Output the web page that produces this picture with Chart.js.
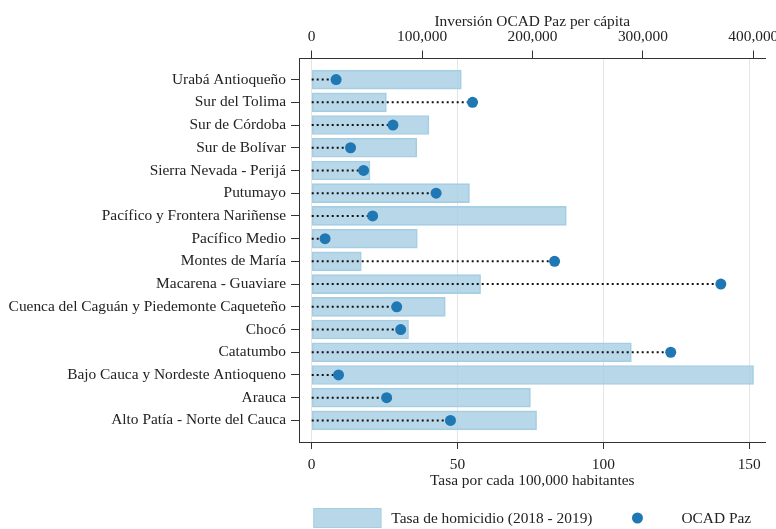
<!DOCTYPE html>
<html>
<head>
<meta charset="utf-8">
<script src="https://cdn.jsdelivr.net/npm/chart.js@4.4.1/dist/chart.umd.min.js"></script>
<style>
  html, body { margin: 0; padding: 0; background: #fff; overflow: hidden; }
  #wrap { width: 800px; height: 529px; }
</style>
</head>
<body>
<div id="wrap"><canvas id="chart" width="800" height="529"></canvas></div>
<script>
// regiones PDET, de arriba hacia abajo
const regions = [
  'Urabá Antioqueño',
  'Sur del Tolima',
  'Sur de Córdoba',
  'Sur de Bolívar',
  'Sierra Nevada - Perijá',
  'Putumayo',
  'Pacífico y Frontera Nariñense',
  'Pacífico Medio',
  'Montes de María',
  'Macarena - Guaviare',
  'Cuenca del Caguán y Piedemonte Caqueteño',
  'Chocó',
  'Catatumbo',
  'Bajo Cauca y Nordeste Antioqueno',
  'Arauca',
  'Alto Patía - Norte del Cauca',
];

// tasa de homicidio por cada 100,000 habitantes (2018 - 2019)
const homicideRate = [51.3, 25.6, 40.2, 36.0, 20.0, 54.1, 87.3, 36.2, 17.0, 57.9, 45.8, 33.2, 109.6, 151.5, 75.0, 77.1];

// inversión OCAD Paz per cápita
const ocadPerCapita = [22100, 145700, 73600, 35200, 47000, 112700, 55200, 12100, 220000, 370600, 77000, 80600, 325200, 24300, 67900, 125700];

const rateTicks = [0, 50, 100, 150];
const ocadTicks = [0, 100000, 200000, 300000, 400000];

const FONT_FAMILY = "'Liberation Serif', 'Times New Roman', serif";
const FONT_SIZE = 15.4;
const TEXT_COLOR = '#222';
const AXIS_COLOR = '#333';

Chart.defaults.font.family = FONT_FAMILY;
Chart.defaults.font.size = FONT_SIZE;
Chart.defaults.color = TEXT_COLOR;

// líneas punteadas desde 0 hasta cada punto (null corta el trazo)
const stemData = [];
ocadPerCapita.forEach((v, i) => {
  stemData.push({ x: 0, y: i }, { x: v, y: i }, { x: null, y: i });
});

// leyenda abajo, centrada sobre el panel
const bottomLegend = {
  id: 'bottomLegend',
  afterDraw(chart) {
    const { ctx, chartArea } = chart;
    const bars = chart.data.datasets[0];
    const dots = chart.data.datasets[2];
    ctx.save();
    ctx.font = `${FONT_SIZE}px ${FONT_FAMILY}`;
    const keyW = 68;
    const keyH = 20;
    const gap = 10;
    const itemGap = 11;
    const w1 = ctx.measureText(bars.label).width;
    const w2 = ctx.measureText(dots.label).width;
    const total = keyW + gap + w1 + itemGap + keyW + gap + w2;
    let x = (chartArea.left + chartArea.right) / 2 - total / 2;
    const y = chart.height - 11;

    ctx.fillStyle = bars.backgroundColor;
    ctx.fillRect(x, y - keyH / 2, keyW, keyH);
    ctx.strokeStyle = bars.borderColor;
    ctx.lineWidth = 1;
    ctx.strokeRect(x + 0.5, y - keyH / 2 + 0.5, keyW - 1, keyH - 1);
    x += keyW + gap;
    ctx.fillStyle = TEXT_COLOR;
    ctx.textBaseline = 'middle';
    ctx.fillText(bars.label, x, y + 1);
    x += w1 + itemGap;

    ctx.beginPath();
    ctx.arc(x + keyW / 2, y, dots.pointRadius, 0, Math.PI * 2);
    ctx.fillStyle = dots.backgroundColor;
    ctx.fill();
    x += keyW + gap;
    ctx.fillStyle = TEXT_COLOR;
    ctx.fillText(dots.label, x, y + 1);
    ctx.restore();
  },
};

const ctx = document.getElementById('chart').getContext('2d');

new Chart(ctx, {
  type: 'bar',
  data: {
    datasets: [
      {
        type: 'bar',
        label: 'Tasa de homicidio (2018 - 2019)',
        indexAxis: 'y',
        xAxisID: 'x',
        yAxisID: 'y',
        data: homicideRate.map((v, i) => ({ x: v, y: i })),
        backgroundColor: 'rgba(166, 206, 227, 0.8)',
        borderColor: '#a6cee3',
        borderWidth: 1,
        borderSkipped: false,
        grouped: false,
        barThickness: 19,
        order: 3,
      },
      {
        type: 'line',
        label: 'stems',
        xAxisID: 'x2',
        yAxisID: 'y',
        data: stemData,
        borderColor: '#111',
        borderWidth: 2,
        borderDash: [2, 3],
        pointRadius: 0,
        fill: false,
        spanGaps: false,
        order: 2,
      },
      {
        type: 'scatter',
        label: 'OCAD Paz',
        xAxisID: 'x2',
        yAxisID: 'y',
        data: ocadPerCapita.map((v, i) => ({ x: v, y: i })),
        backgroundColor: '#1f78b4',
        borderWidth: 0,
        pointRadius: 5.5,
        order: 1,
      },
    ],
  },
  options: {
    responsive: false,
    animation: false,
    layout: { padding: { left: 0, top: 0, right: 34.5, bottom: 0 } },
    plugins: {
      legend: { display: false },
      tooltip: { enabled: false },
    },
    scales: {
      x: {
        type: 'linear',
        axis: 'x',
        position: 'bottom',
        offset: false,
        beginAtZero: false,
        min: -4.36,
        max: 155.6,
        afterBuildTicks: s => { s.ticks = rateTicks.map(v => ({ value: v })); },
        afterFit: s => { s.height = 87; },
        grid: { offset: false, color: '#e5e5e5', tickColor: AXIS_COLOR, tickLength: 7 },
        border: { color: AXIS_COLOR, width: 1 },
        ticks: { padding: 6.5, autoSkip: false, maxRotation: 0, callback: v => v },
        title: {
          display: true,
          text: 'Tasa por cada 100,000 habitantes',
          padding: { top: 0, bottom: 39 },
        },
      },
      x2: {
        type: 'linear',
        axis: 'x',
        position: 'top',
        offset: false,
        beginAtZero: false,
        min: -11500,
        max: 411050,
        afterBuildTicks: s => { s.ticks = ocadTicks.map(v => ({ value: v })); },
        afterFit: s => { s.height = 58; },
        grid: { offset: false, drawOnChartArea: false, tickColor: AXIS_COLOR, tickLength: 7.5 },
        border: { color: AXIS_COLOR, width: 1 },
        ticks: { padding: 4.5, autoSkip: false, maxRotation: 0, callback: v => v.toLocaleString('en-US') },
        title: {
          display: true,
          text: 'Inversión OCAD Paz per cápita',
          padding: { top: 12.5, bottom: 0 },
        },
      },
      y: {
        type: 'linear',
        axis: 'y',
        position: 'left',
        offset: false,
        beginAtZero: false,
        reverse: true,
        min: -0.95,
        max: 15.95,
        afterBuildTicks: s => { s.ticks = regions.map((_, i) => ({ value: i })); },
        afterFit: s => { s.width = 299; },
        grid: { offset: false, drawOnChartArea: false, tickColor: AXIS_COLOR, tickLength: 8 },
        border: { color: AXIS_COLOR, width: 1 },
        ticks: { padding: 5, autoSkip: false, callback: v => regions[v] },
      },
    },
  },
  plugins: [bottomLegend],
});
</script>
</body>
</html>
